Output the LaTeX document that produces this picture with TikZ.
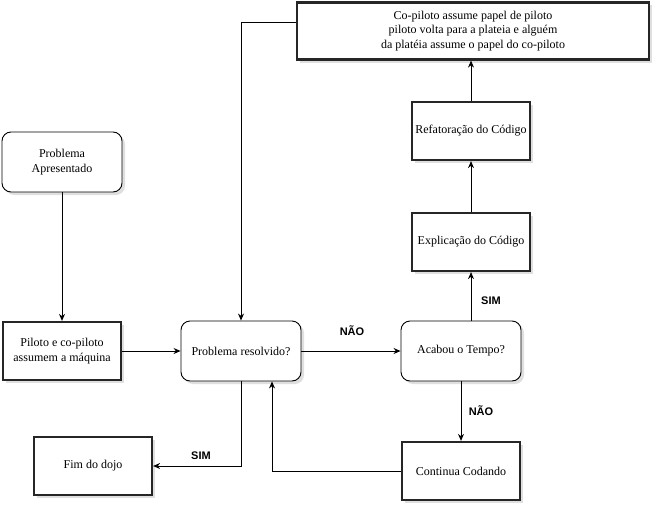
\documentclass[tikz,border=0pt]{standalone}
\usepackage{fontspec}
\setmainfont{Liberation Serif}
\newfontfamily\rotulofont{Liberation Sans}
\usetikzlibrary{arrows.meta,shadows}

\begin{document}
\begin{tikzpicture}
        [x=1pt,y=-1pt,
        caixa/.style={draw=black!85,line width=2.2pt,fill=white,align=center,minimum width=118pt,minimum height=58pt,inner sep=2pt,font=\fontsize{12}{14.5}\selectfont,drop shadow={shadow xshift=3pt,shadow yshift=-3pt,opacity=0.25}},
        redondo/.style={draw=black,line width=0.9pt,rounded corners=9pt,fill=white,align=center,minimum width=120pt,minimum height=60pt,inner sep=2pt,font=\fontsize{12}{14.5}\selectfont,drop shadow={shadow xshift=3pt,shadow yshift=-3pt,opacity=0.25}},
        rotulo/.style={font=\rotulofont\bfseries\fontsize{11}{13}\selectfont,inner sep=1pt},
        seta/.style={line width=0.9pt,-{Stealth[length=7pt,width=6pt]}}]

        \useasboundingbox (0, 0) rectangle (655, 511);

        \node[redondo] (inicio) at (62, 162) {Problema\\Apresentado};
        \node[caixa] (piloto) at (62, 351) {Piloto e co-piloto\\assumem a máquina};
        \node[redondo] (resolvido) at (241, 351) {Problema resolvido?};
        \node[redondo] (acabou) at (461, 351) {Acabou o Tempo?};
        \node[caixa] (continua) at (461, 471) {Continua Codando};
        \node[caixa] (fim) at (93, 466) {Fim do dojo};
        \node[caixa] (explica) at (471, 242) {Explicação do Código};
        \node[caixa] (refatora) at (471, 131) {Refatoração do Código};
        \node[caixa,minimum width=352pt,minimum height=57pt] (troca) at (473, 31) {Co-piloto assume papel de piloto\\piloto volta para a plateia e alguém\\da platéia assume o papel do co-piloto};

        \coordinate (volta) at (241, 22);
        \coordinate (retorno) at (272, 0);

        \node[rotulo] (nao1) at (352, 331) {NÃO};
        \node[rotulo] (sim1) at (491, 301) {SIM};
        \node[rotulo] (nao2) at (481, 411) {NÃO};
        \node[rotulo] (sim2) at (201, 456) {SIM};

        \draw[seta] (inicio) -- (piloto);
        \draw[seta] (piloto) -- (resolvido);
        \draw[seta] (resolvido) -- (acabou);
        \draw[seta] (explica.south |- acabou.north) -- (explica.south);
        \draw[seta] (explica) -- (refatora);
        \draw[seta] (refatora.north) -- (refatora.north |- troca.south);
        \draw[seta] (troca.west |- volta) -- (volta) -- (resolvido.north);
        \draw[seta] (acabou) -- (continua);
        \draw[seta] (continua.west) -| (retorno |- resolvido.south);
        \draw[seta] (resolvido.south) |- (fim.east);
      \end{tikzpicture}
\end{document}
